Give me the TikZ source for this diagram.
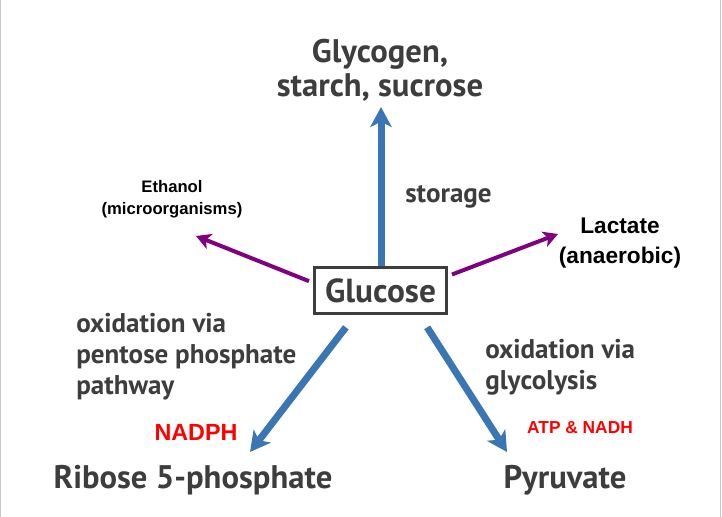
\documentclass[tikz,border=0pt]{standalone}
\usepackage{fontspec}
\setmainfont{PT Sans}
\newfontfamily\arialb{Liberation Sans}
\usetikzlibrary{arrows.meta}
\definecolor{tinta}{HTML}{3D3D3D}
\definecolor{azul}{HTML}{3A76B4}
\definecolor{morado}{HTML}{800080}
\definecolor{rojo}{HTML}{FF0000}
\definecolor{marco}{HTML}{C8C8C8}

\begin{document}
\begin{tikzpicture}[x=0.75pt,y=-0.75pt,
    rotulo/.style={font=\bfseries\fontsize{24.5}{25.5}\selectfont,text=tinta,
                   align=center,inner sep=0pt},
    via/.style={font=\bfseries\fontsize{20.3}{23.25}\selectfont,text=tinta,
                align=left,inner sep=0pt,anchor=west},
    negro/.style={font=\arialb\bfseries\fontsize{17}{22.5}\selectfont,
                  align=center,inner sep=0pt},
    rojito/.style={font=\arialb\bfseries,text=rojo,inner sep=0pt},
    caja/.style={draw=tinta,line width=2.25pt,minimum width=99pt,
                 minimum height=35pt,font=\bfseries\fontsize{25}{26}\selectfont,
                 text=tinta},
    flechaAzul/.style={draw=azul,line width=5.25pt,
                       -{Stealth[length=15pt,width=16pt,inset=4pt]}},
    flechaMorada/.style={draw=morado,line width=3pt,
                         -{Stealth[length=11pt,width=12pt,inset=3pt]}}]
  \useasboundingbox (0,0) rectangle (722,517);
  \draw[marco,line width=1pt] (0.6,0) -- (0.6,517);
  \draw[marco,line width=1pt] (720.5,0) -- (720.5,517);

  % centro
  \node[caja] (glucosa) at (380.5,290.5) {Glucose};

  % productos
  \node[rotulo] (glucogeno) at (380,70) {Glycogen,\\starch, sucrose};
  \node[rotulo] (ribosa) at (193,480) {Ribose 5-phosphate};
  \node[rotulo] (piruvato) at (565,480) {Pyruvate};
  \node[negro,font=\arialb\bfseries\fontsize{12.5}{16.5}\selectfont] (etanol) at (172,199)
    {Ethanol\\(microorganisms)};
  \node[negro] (lactato) at (620,243) {Lactate\\(anaerobic)};

  % rutas
  \node[via] (almacen) at (405,197) {storage};
  \node[via] (pentosa) at (76,357) {oxidation via\\pentose phosphate\\pathway};
  \node[via] (glucolisis) at (485,367) {oxidation via\\glycolysis};
  \node[rojito,font=\arialb\bfseries\fontsize{17.5}{20}\selectfont] (nadph) at (196,432) {NADPH};
  \node[rojito,font=\arialb\bfseries\fontsize{13}{16}\selectfont] (atp) at (580,428) {ATP \& NADH};

  % puntas
  \coordinate (puntaArriba) at (381,107);
  \coordinate (puntaIzq) at (250,452);
  \coordinate (puntaDer) at (507,452);
  \coordinate (puntaEtanol) at (196,236);
  \coordinate (puntaLactato) at (558,234);

  \draw[flechaAzul] (glucosa.north -| puntaArriba) -- (puntaArriba);
  \draw[flechaAzul] ([xshift=-26pt]glucosa.south) ++(0,12) -- (puntaIzq);
  \draw[flechaAzul] ([xshift=35pt]glucosa.south) ++(0,12) -- (puntaDer);
  \draw[flechaMorada] ([yshift=7pt]glucosa.west) ++(-4,0) -- (puntaEtanol);
  \draw[flechaMorada] ([yshift=12pt]glucosa.east) ++(4,0) -- (puntaLactato);
\end{tikzpicture}
\end{document}
